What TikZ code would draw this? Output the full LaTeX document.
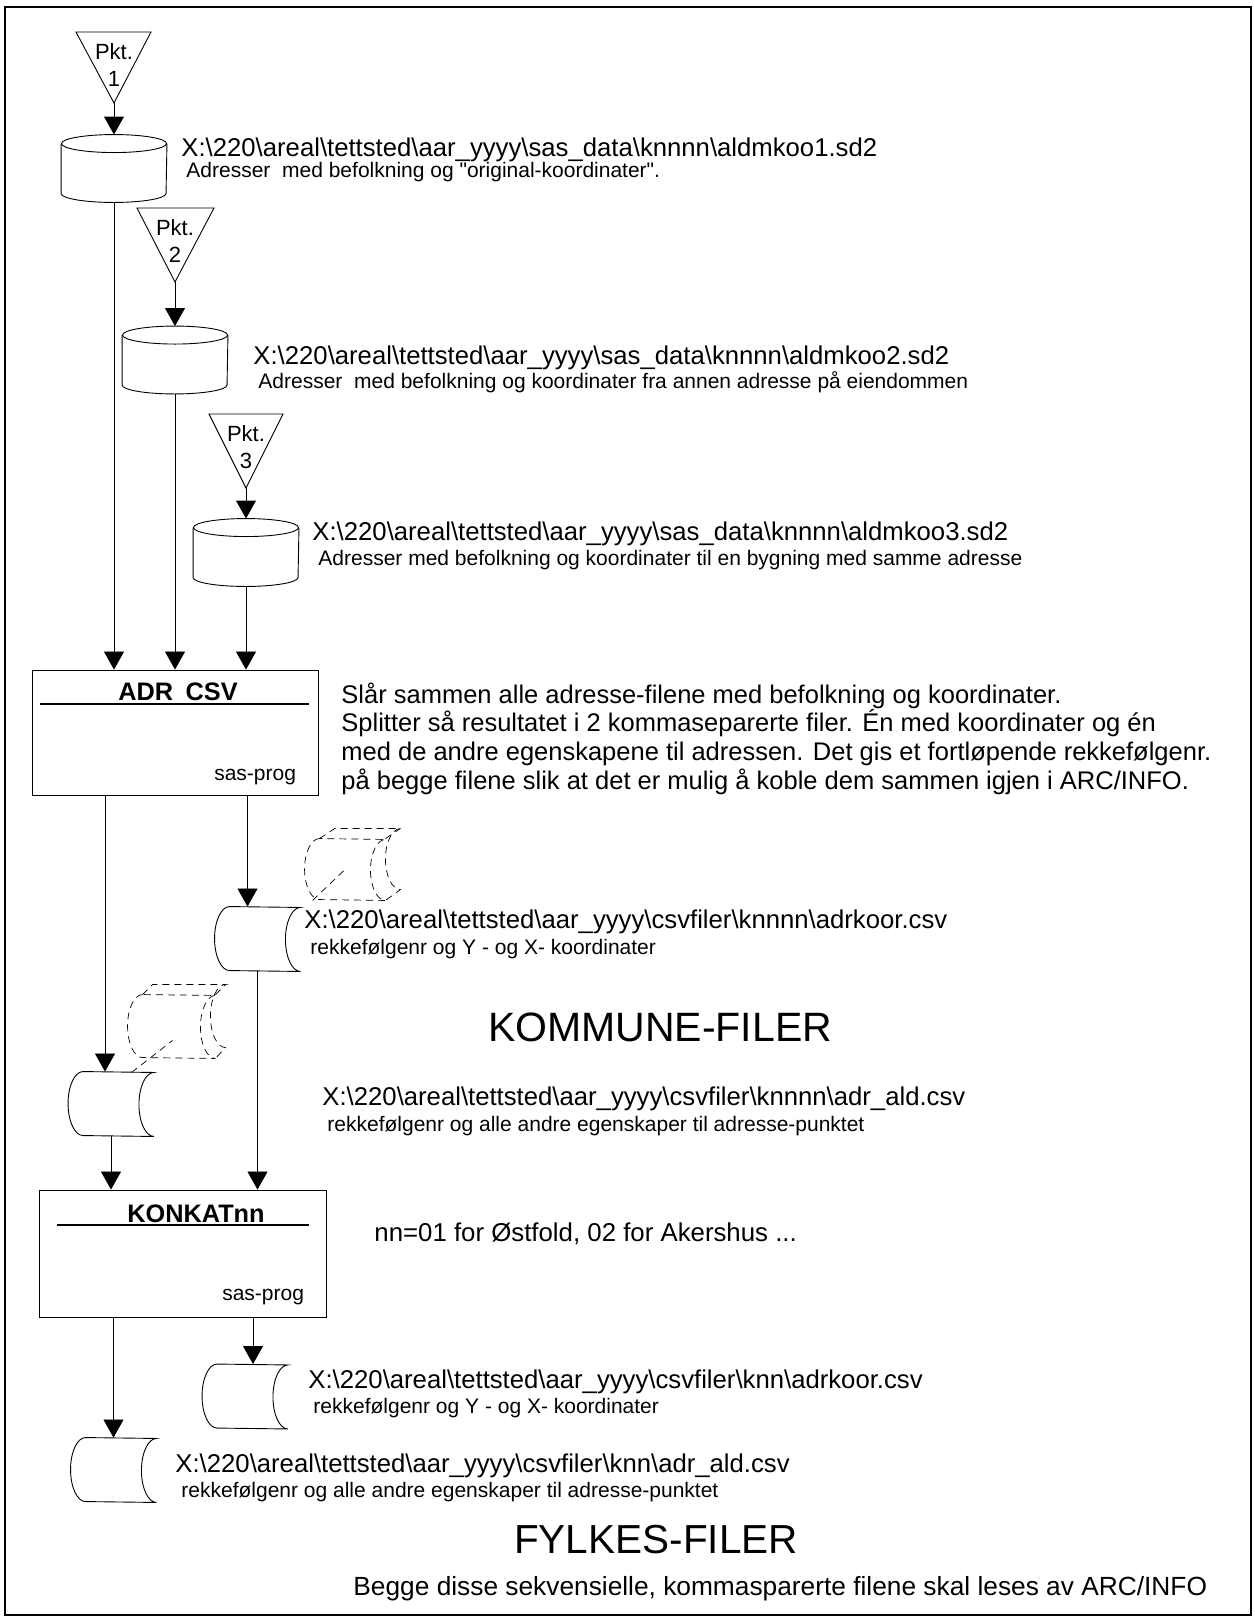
\documentclass[tikz,border=0pt]{standalone}
\usepackage{fontspec}
\setmainfont{Liberation Sans}
\usetikzlibrary{arrows.meta,calc}
\newcommand{\bksl}{\textbackslash}

\begin{document}
\begin{tikzpicture}[x=1pt,y=-1pt,>={Triangle[length=18pt,width=20pt]},line width=0.9pt]
  \tikzstyle{drum}=[minimum width=105pt,minimum height=67pt,inner sep=0pt]
  \tikzstyle{tape}=[minimum width=85pt,minimum height=64pt,inner sep=0pt]
  \tikzstyle{prog}=[draw,minimum width=286pt,minimum height=125pt,inner sep=0pt]
  \tikzstyle{ghost}=[dash pattern=on 7pt off 5pt,line width=0.7pt]
  \tikzstyle{fname}=[anchor=base west,inner sep=0pt,font=\fontsize{25.7}{30}\selectfont]
  \tikzstyle{fnote}=[anchor=base west,inner sep=0pt,font=\fontsize{21}{25}\selectfont]
  \tikzstyle{ptitle}=[anchor=base,inner sep=0pt,font=\bfseries\fontsize{25.3}{30}\selectfont]
  \tikzstyle{pkt}=[anchor=base,inner sep=0pt,font=\fontsize{22}{26}\selectfont]
  \tikzstyle{big}=[anchor=base,inner sep=0pt,font=\fontsize{41}{48}\selectfont]
  \tikzstyle{desc}=[anchor=base west,inner sep=0pt,font=\fontsize{25.5}{30}\selectfont]
  \useasboundingbox (0,0) rectangle (1254,1618);
  \draw[line width=1.4pt] (5,7) rectangle (1251,1615);

  % Pkt. triangles
  \foreach \i/\xl/\xr/\yt/\xa/\ya in {1/76/151/32/114/103,2/137/214/208/175/282,3/209/283/414/246/488}{
    \coordinate (k\i) at (\xa,\ya);
    \draw (\xl,\yt) -- (\xr,\yt) -- (k\i) -- cycle;
    \node[pkt] (kp\i) at (\xa,{\yt+27}) {Pkt.};
    \node[pkt] (kn\i) at (\xa,{\yt+54}) {\i};
  }

  % sas datasets
  \node[drum] (c1) at (114,168.5) {};
  \node[drum] (c2) at (175,360) {};
  \node[drum] (c3) at (246,552.5) {};
  \foreach \n in {c1,c2,c3}{
    \draw ($(\n.north west)+(0,9)$) -- ($(\n.south west)+(0,-9)$)
      arc[start angle=180,end angle=0,x radius=52.5,y radius=9] -- ($(\n.north east)+(0,9)$);
    \draw ($(\n.north)+(0,9)$) ellipse[x radius=52.5,y radius=9];
  }

  % programs
  \node[prog] (adr) at (175,732.5) {};
  \node[prog,minimum width=287pt,minimum height=127pt] (kon) at (182.5,1253.5) {};
  \node[ptitle] (adrt) at (178,700) {ADR\hspace{0.5em}CSV};
  \node[ptitle] (kont) at (196,1222) {KONKATnn};
  \draw[line width=2pt] ($(adr.north west)+(8,34)$) -- ($(adr.north east)+(-9,34)$);
  \draw[line width=2pt] ($(kon.north west)+(18,35)$) -- ($(kon.north east)+(-17,35)$);
  \node[fnote,anchor=base east] (adrs) at ($(adr.south east)+(-22,-15)$) {sas-prog};
  \node[fnote,anchor=base east] (kons) at ($(kon.south east)+(-22,-17)$) {sas-prog};

  % csv files
  \node[tape] (t1) at (257.5,939) {};
  \node[tape] (t2) at (111,1104) {};
  \node[tape] (t3) at (245,1396.5) {};
  \node[tape] (t4) at (113.5,1470) {};
  \node[minimum width=80pt,minimum height=61pt,inner sep=0pt] (g1) at (345,869.5) {};
  \node[minimum width=87pt,minimum height=63pt,inner sep=0pt] (g2) at (171.5,1026.5) {};
  \foreach \n/\r/\st in {t1/32/solid,t2/32/solid,t3/32/solid,t4/32/solid,g1/30.5/ghost,g2/31.5/ghost}{
    \draw[\st] ($(\n.north west)+(15,0)$) arc[start angle=270,end angle=90,x radius=15,y radius=\r]
      -- (\n.south east) arc[start angle=90,end angle=270,x radius=15,y radius=\r] -- cycle;
  }
  \draw[ghost] ($(g1.north west)+(15,0)$) -- ++(15,-10) -- ($(g1.north east)+(15,-10)$)
    arc[start angle=270,end angle=90,x radius=15,y radius=30.5] -- (g1.south east);
  \draw[ghost] (g1.north east) -- ++(15,-10);
  \draw[ghost] ($(g1.south west)+(8,0)$) -- (g1.center);
  \draw[ghost] ($(g2.north west)+(15,0)$) -- ++(10,-10) -- ($(g2.north east)+(10,-10)$)
    arc[start angle=270,end angle=90,x radius=15,y radius=31.5] -- (g2.south east);
  \draw[ghost] (g2.north east) -- ++(10,-10);
  \draw[ghost] ($(g2.south west)+(4,14)$) -- ++(41,-32);

  % connectors
  \coordinate (t1in) at ([xshift=-10pt]t1.north);
  \coordinate (t2in) at ([xshift=-6pt]t2.north);
  \coordinate (t3in) at ([xshift=8pt]t3.north);
  \draw[->] (k1) -- (c1.north);
  \draw[->] (k2) -- (c2.north);
  \draw[->] (k3) -- (c3.north);
  \draw[->,line width=0.7pt] (c1.south) -- (c1.south |- adr.north);
  \draw[->,line width=0.7pt] (c2.south) -- (c2.south |- adr.north);
  \draw[->,line width=0.7pt] (c3.south) -- (c3.south |- adr.north);
  \draw[->,line width=0.7pt] (adr.south -| t1in) -- (t1in);
  \draw[->,line width=0.7pt] (adr.south -| t2in) -- (t2in);
  \draw[->,line width=0.7pt] (t2.south) -- (t2.south |- kon.north);
  \draw[->,line width=0.7pt] (t1.south) -- (t1.south |- kon.north);
  \draw[->,line width=0.7pt] (kon.south -| t3in) -- (t3in);
  \draw[->,line width=0.7pt] (kon.south -| t4.north) -- (t4.north);

  % texts
  \node[fname] (f1) at (181,156) {X:\bksl220\bksl areal\bksl tettsted\bksl aar\_yyyy\bksl sas\_data\bksl knnnn\bksl aldmkoo1.sd2};
  \node[fnote] (n1) at (186,177) {Adresser\ \ med befolkning og \textquotedbl original-koordinater\textquotedbl.};
  \node[fname] (f2) at (253,364) {X:\bksl220\bksl areal\bksl tettsted\bksl aar\_yyyy\bksl sas\_data\bksl knnnn\bksl aldmkoo2.sd2};
  \node[fnote] (n2) at (258,388) {Adresser\ \ med befolkning og koordinater fra annen adresse på eiendommen};
  \node[fname] (f3) at (312,540) {X:\bksl220\bksl areal\bksl tettsted\bksl aar\_yyyy\bksl sas\_data\bksl knnnn\bksl aldmkoo3.sd2};
  \node[fnote] (n3) at (318,565) {Adresser med befolkning og koordinater til en bygning med samme adresse};
  \foreach \l [count=\i] in {{Slår sammen alle adresse-filene med befolkning og koordinater.},
      {Splitter så resultatet i 2 kommaseparerte filer. Én med koordinater og én},
      {med de andre egenskapene til adressen. Det gis et fortløpende rekkefølgenr.},
      {på begge filene slik at det er mulig å koble dem sammen igjen i ARC/INFO.}}{
    \node[desc] (d\i) at (341,{703+(\i-1)*28.7}) {\l};
  }
  \node[fname] (f4) at (304,928) {X:\bksl220\bksl areal\bksl tettsted\bksl aar\_yyyy\bksl csvfiler\bksl knnnn\bksl adrkoor.csv};
  \node[fnote] (n4) at (310,954) {rekkefølgenr og Y - og X- koordinater};
  \node[big] (kom) at (660,1041) {KOMMUNE-FILER};
  \node[fname] (f5) at (322,1105) {X:\bksl220\bksl areal\bksl tettsted\bksl aar\_yyyy\bksl csvfiler\bksl knnnn\bksl adr\_ald.csv};
  \node[fnote] (n5) at (327,1131) {rekkefølgenr og alle andre egenskaper til adresse-punktet};
  \node[desc,font=\fontsize{25.8}{30}\selectfont] (nn) at (374,1241) {nn=01 for Østfold, 02 for Akershus ...};
  \node[fname] (f6) at (308,1388) {X:\bksl220\bksl areal\bksl tettsted\bksl aar\_yyyy\bksl csvfiler\bksl knn\bksl adrkoor.csv};
  \node[fnote] (n6) at (313,1413) {rekkefølgenr og Y - og X- koordinater};
  \node[fname] (f7) at (175,1472) {X:\bksl220\bksl areal\bksl tettsted\bksl aar\_yyyy\bksl csvfiler\bksl knn\bksl adr\_ald.csv};
  \node[fnote] (n7) at (181,1497) {rekkefølgenr og alle andre egenskaper til adresse-punktet};
  \node[big,font=\fontsize{40.5}{48}\selectfont] (fyl) at (656,1553) {FYLKES-FILER};
  \node[desc,font=\fontsize{26.3}{31}\selectfont] (bot) at (353,1595) {Begge disse sekvensielle, kommasparerte filene skal leses av ARC/INFO};
\end{tikzpicture}
\end{document}
